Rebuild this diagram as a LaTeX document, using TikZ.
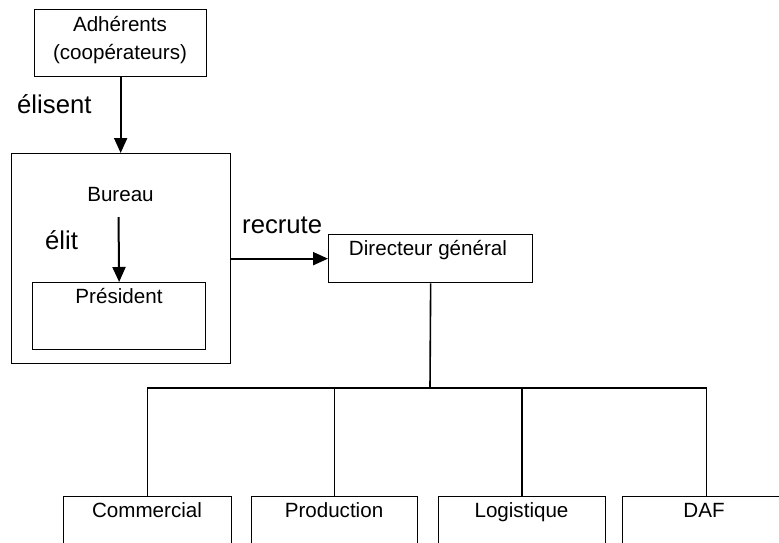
\documentclass[tikz,border=0pt]{standalone}
\usepackage{fontspec}
\setmainfont{Liberation Sans}
\usetikzlibrary{arrows.meta}
\begin{document}
\begin{tikzpicture}[x=1pt,y=-1pt,
  boxnode/.style={draw,line width=1.3pt,inner sep=0pt,anchor=north west},
  txt/.style={inner sep=0pt,font=\fontsize{20.6}{28}\selectfont},
  lbl/.style={inner sep=0pt,font=\fontsize{25.7}{30}\selectfont},
  arr/.style={line width=2pt,-{Triangle[width=13pt,length=15pt]}},
  conn/.style={line width=1.6pt}]
\useasboundingbox (0,0) rectangle (779,542);
\clip (0,0) rectangle (779,542);
% boxes
\node[boxnode,minimum width=172pt,minimum height=67pt] (adh) at (34,9) {};
\node[boxnode,minimum width=219pt,minimum height=210pt] (bur) at (11,153) {};
\node[boxnode,minimum width=173pt,minimum height=67pt] (pres) at (32,282) {};
\node[boxnode,minimum width=204pt,minimum height=48pt] (dg) at (328,234) {};
\node[boxnode,minimum width=168pt,minimum height=80pt] (com) at (63,496) {};
\node[boxnode,minimum width=166pt,minimum height=80pt] (prod) at (251,496) {};
\node[boxnode,minimum width=167pt,minimum height=80pt] (logi) at (438,496) {};
\node[boxnode,minimum width=168pt,minimum height=80pt] (daf) at (622,496) {};
% texts
\node[txt,anchor=base] (tadh1) at (120,31) {Adhérents};
\node[txt,anchor=base] (tadh2) at (120,59) {(coopérateurs)};
\node[lbl,anchor=base west] (telis) at (17,113) {élisent};
\node[txt,anchor=base] (tbur) at (120.5,201.5) {Bureau};
\node[lbl,anchor=base west] (telit) at (45,249) {élit};
\node[txt,anchor=base] (tpres) at (119,303) {Président};
\node[lbl,anchor=base west] (trec) at (242,233) {recrute};
\node[txt,anchor=base] (tdg) at (428,255) {Directeur général};
\node[txt,anchor=base] (tcom) at (147,517) {Commercial};
\node[txt,anchor=base] (tprod) at (334,517) {Production};
\node[txt,anchor=base] (tlog) at (521.5,517) {Logistique};
\node[txt,anchor=base] (tdaf) at (704,517) {DAF};
% arrows
\draw[arr] (adh.south) -- (adh.south |- bur.north);
\coordinate (bstart) at (118.5,217);
\draw[arr] (bstart) -- (pres.north);
\draw[arr] (bur.east) -- (dg.west);
% tree
\coordinate (bar) at (430,388);
\draw[conn] (dg.south) -- (bar);
\draw[conn] (com.north) |- (bar) -| (daf.north);
\draw[conn] (prod.north) -- (prod.north |- bar);
\draw[conn] (logi.north) -- (logi.north |- bar);
\end{tikzpicture}
\end{document}
